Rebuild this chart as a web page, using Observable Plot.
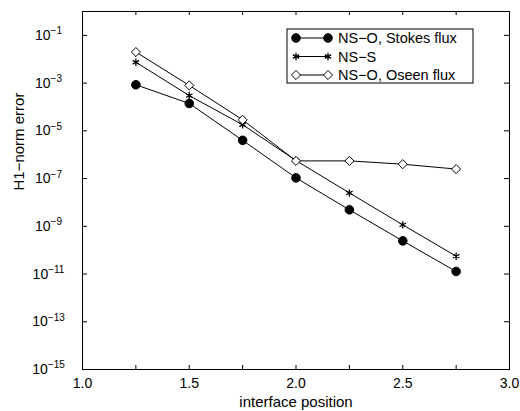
<!DOCTYPE html>
<html>
<head>
<meta charset="utf-8">
<script src="https://cdn.jsdelivr.net/npm/d3@7"></script>
<script src="https://cdn.jsdelivr.net/npm/@observablehq/plot@0.6"></script>
<style>
  html, body { margin: 0; padding: 0; background: #fff; }
  #chart svg { display: block; }
</style>
</head>
<body>
<div id="chart"></div>
<script>
// ---- data ----
const positions = [1.25, 1.5, 1.75, 2.0, 2.25, 2.5, 2.75];
const stokesFlux = [8.5e-4, 1.4e-4, 4.0e-6, 1.07e-7, 4.9e-9, 2.45e-10, 1.28e-11];
const nsS        = [7.5e-3, 3.0e-4, 1.8e-5, 5.7e-7, 2.5e-8, 1.15e-9, 5.6e-11];
const oseenFlux  = [2.0e-2, 8.0e-4, 2.9e-5, 5.5e-7, 5.5e-7, 4.0e-7, 2.5e-7];
const seriesNames = ["NS\u2212O, Stokes flux", "NS\u2212S", "NS\u2212O, Oseen flux"];
const xTickLabels = [1.0, 1.5, 2.0, 2.5, 3.0];
const xTickMarks = [1.25, 1.5, 1.75, 2.0, 2.25, 2.5, 2.75];
const yTickExponents = [-1, -3, -5, -7, -9, -11, -13, -15];
const xLabel = "interface position";
const yLabel = "H1\u2212norm error";

const W = 520, H = 411;
const mL = 82, mR = 11, mT = 11, mB = 42;
const plotW = W - mL - mR, plotH = H - mT - mB;
const font = "Liberation Sans, Arial, Helvetica, sans-serif";

const symbolOf = ["circle", "asterisk", "diamond2"];
const rOf = [4.3, 3.5, 4.1];
const fillOf = ["black", "none", "white"];
const swOf = [1, 1.3, 1];
const valuesOf = [stokesFlux, nsS, oseenFlux];

const rows = [];
valuesOf.forEach((vals, s) => positions.forEach((p, i) => rows.push({series: seriesNames[s], idx: s, x: p, y: vals[i]})));

const yTicks = yTickExponents.map(e => Math.pow(10, e));

const marks = [];
// inward ticks on all sides
marks.push(Plot.ruleX(xTickMarks, {x: d => d, stroke: "black", insetTop: plotH - 4}));
marks.push(Plot.ruleX(xTickMarks, {x: d => d, stroke: "black", insetBottom: plotH - 4}));
marks.push(Plot.ruleY(yTicks, {y: d => d, stroke: "black", insetRight: plotW - 5}));
marks.push(Plot.ruleY(yTicks, {y: d => d, stroke: "black", insetLeft: plotW - 5}));
marks.push(Plot.frame({stroke: "black", strokeWidth: 1}));
// series lines and markers
for (let s = 0; s < 3; s++) {
  const data = rows.filter(r => r.idx === s);
  marks.push(Plot.line(data, {x: "x", y: "y", stroke: "black", strokeWidth: 1}));
  marks.push(Plot.dot(data, {x: "x", y: "y", symbol: () => symbolOf[s], r: rOf[s],
    fill: fillOf[s], stroke: "black", strokeWidth: swOf[s]}));
}
// tick labels
marks.push(Plot.text(xTickLabels, {x: d => d, text: d => d.toFixed(1), frameAnchor: "bottom",
  dy: 14, lineAnchor: "middle", fontSize: 14, fill: "black"}));
marks.push(Plot.text(yTicks, {y: d => d, text: d => "10^" + Math.round(Math.log10(d)), frameAnchor: "left",
  dx: -34, textAnchor: "middle", lineAnchor: "middle", fontSize: 14, fill: "black"}));
// axis titles
marks.push(Plot.text([xLabel], {text: d => d, frameAnchor: "bottom", dy: 33, lineAnchor: "middle", fontSize: 15, fill: "black"}));
marks.push(Plot.text([yLabel], {text: d => d, frameAnchor: "left", dx: -63, rotate: -90, lineAnchor: "middle", fontSize: 15, fill: "black"}));

const chart = Plot.plot({
  width: W, height: H,
  marginLeft: mL, marginRight: mR, marginTop: mT, marginBottom: mB,
  style: {fontFamily: font, background: "white", color: "black"},
  x: {domain: [1, 3], axis: null},
  y: {type: "log", domain: [1e-15, 1], axis: null},
  symbol: {type: "identity"},
  marks
});

const svg = d3.select(chart);
// superscripts for the power-of-ten labels
svg.selectAll("text").each(function() {
  const t = d3.select(this);
  const m = /^10\^(-?\d+)$/.exec(t.text());
  if (!m) return;
  t.text("");
  t.append("tspan").text("10");
  t.append("tspan").attr("dy", "-0.55em").attr("font-size", 10).text(m[1].replace("-", "\u2212"));
});

// legend box
const lg = svg.append("g").attr("font-family", font).attr("font-size", 14.5).attr("text-anchor", "start");
const lx = 287, ly = 29, lw = 186, lh = 54;
lg.append("rect").attr("x", lx).attr("y", ly).attr("width", lw).attr("height", lh)
  .attr("fill", "white").attr("stroke", "black");
const d3Sym = {circle: d3.symbolCircle, asterisk: d3.symbolAsterisk, diamond2: d3.symbolDiamond2};
seriesNames.forEach((name, s) => {
  const cy = ly + 9 + s * 18.5;
  const x0 = lx + 9, x1 = lx + 41;
  lg.append("line").attr("x1", x0).attr("x2", x1).attr("y1", cy).attr("y2", cy).attr("stroke", "black");
  const path = d3.symbol(d3Sym[symbolOf[s]], Math.PI * rOf[s] * rOf[s])();
  [x0, x1].forEach(x => lg.append("path").attr("d", path).attr("transform", `translate(${x},${cy})`)
    .attr("fill", fillOf[s]).attr("stroke", "black").attr("stroke-width", swOf[s]));
  lg.append("text").attr("x", lx + 51).attr("y", cy).attr("dy", "0.35em").attr("fill", "black")
    .attr("text-anchor", "start").text(name);
});

document.getElementById("chart").appendChild(chart);
</script>
</body>
</html>
